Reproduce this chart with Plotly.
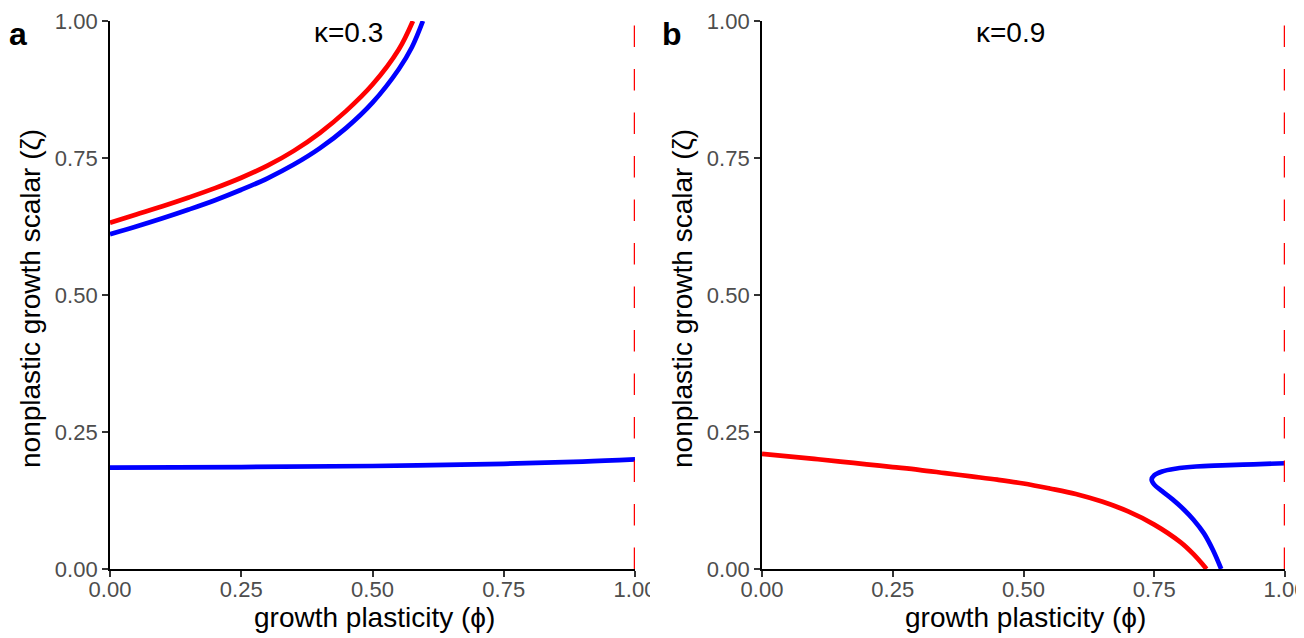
import plotly.graph_objects as go

# The page body has an 8px margin, so the figure is drawn 8px smaller and
# all reference pixel positions are shifted by 8px.
VIEW_W, VIEW_H = 1304, 638
OFF = 8
W, H = VIEW_W - OFF, VIEW_H - OFF

# ---- data ----
a_red_x = [0.00, 0.05, 0.10, 0.15, 0.20, 0.25, 0.30, 0.35, 0.40, 0.45, 0.50, 0.55, 0.577]
a_red_y = [0.632, 0.647, 0.662, 0.678, 0.695, 0.714, 0.736, 0.763, 0.796, 0.836, 0.884, 0.948, 1.00]

a_blue_hi_x = [0.00, 0.05, 0.10, 0.15, 0.20, 0.25, 0.30, 0.35, 0.40, 0.45, 0.50, 0.55, 0.575, 0.596]
a_blue_hi_y = [0.611, 0.625, 0.640, 0.656, 0.673, 0.692, 0.713, 0.738, 0.768, 0.805, 0.851, 0.912, 0.952, 1.00]

a_blue_lo_x = [0.00, 0.25, 0.50, 0.75, 0.90, 1.00]
a_blue_lo_y = [0.185, 0.186, 0.188, 0.192, 0.196, 0.200]

b_red_x = [0.00, 0.05, 0.10, 0.15, 0.20, 0.25, 0.30, 0.35, 0.40, 0.45, 0.50, 0.55, 0.60, 0.65, 0.70, 0.75, 0.80, 0.825, 0.85]
b_red_y = [0.210, 0.2055, 0.201, 0.196, 0.191, 0.186, 0.181, 0.175, 0.169, 0.163, 0.156, 0.147, 0.137, 0.123, 0.105, 0.081, 0.049, 0.027, 0.000]

b_blue_x = [0.878, 0.862, 0.845, 0.825, 0.805, 0.785, 0.765, 0.750, 0.745, 0.750, 0.765, 0.790, 0.830, 0.880, 0.940, 1.000]
b_blue_y = [0.000, 0.035, 0.065, 0.090, 0.110, 0.127, 0.142, 0.154, 0.163, 0.171, 0.178, 0.183, 0.187, 0.189, 0.191, 0.193]

threshold_x = [1.0, 1.0]
threshold_y = [0.0, 1.0]

kappa_labels = ["κ=0.3", "κ=0.9"]
panel_labels = ["a", "b"]
tick_vals = [0, 0.25, 0.5, 0.75, 1.0]
tick_text = ["0.00", "0.25", "0.50", "0.75", "1.00"]
x_title = "growth plasticity (ϕ)"
y_title = "nonplastic growth scalar (ζ)"

RED = "#FF0000"
BLUE = "#0000FF"
FONT = "Liberation Sans, Arial, sans-serif"

fig = go.Figure()

def line(x, y, color, xa, ya, width=4.7, dash=None, spline=True):
    fig.add_trace(go.Scatter(
        x=x, y=y, mode="lines", xaxis=xa, yaxis=ya, showlegend=False,
        line=dict(color=color, width=width, dash=dash,
                  shape="spline" if spline else "linear", smoothing=1.0),
        hoverinfo="skip"))

DASH = "21.5px,22px"
# panel a
line(a_red_x, a_red_y, RED, "x", "y")
line(a_blue_hi_x, a_blue_hi_y, BLUE, "x", "y")
line(a_blue_lo_x, a_blue_lo_y, BLUE, "x", "y")
line(threshold_x, threshold_y, RED, "x", "y", width=2.5, dash=DASH, spline=False)
# panel b
line(b_red_x, b_red_y, RED, "x2", "y2")
line(b_blue_x, b_blue_y, BLUE, "x2", "y2")
line(threshold_x, threshold_y, RED, "x2", "y2", width=2.5, dash=DASH, spline=False)

# geometry: reference viewport pixels -> paper
def px(x):
    return (x - OFF) / W

def py(y):
    return 1 - (y - OFF) / H

ax_l, ax_r = px(110), px(635)
bx_l, bx_r = px(762), px(1285)
y_top, y_bot = py(21), py(569)

axis_common = dict(
    range=[0, 1], showgrid=False, zeroline=False, showline=True,
    linecolor="black", linewidth=1.8, ticks="outside", ticklen=6,
    tickwidth=1.6, tickcolor="#333333", tickvals=tick_vals, ticktext=tick_text,
    tickfont=dict(family=FONT, size=22, color="#4D4D4D"), fixedrange=True,
    automargin=False, ticklabeloverflow="allow",
)
x_extra = dict(ticklabelstandoff=-6)

fig.update_layout(
    width=W, height=H, margin=dict(l=0, r=0, t=0, b=0, pad=0, autoexpand=False),
    paper_bgcolor="white", plot_bgcolor="white",
    xaxis=dict(domain=[ax_l, ax_r], anchor="y", **axis_common, **x_extra),
    yaxis=dict(domain=[y_bot, y_top], anchor="x", **axis_common),
    xaxis2=dict(domain=[bx_l, bx_r], anchor="y2", **axis_common, **x_extra),
    yaxis2=dict(domain=[y_bot, y_top], anchor="x2", **axis_common),
)

def note(text, x, y, size, bold=False, angle=0):
    return dict(text=("<b>%s</b>" % text) if bold else text, x=px(x), y=py(y),
                xref="paper", yref="paper", xanchor="center", yanchor="middle",
                textangle=angle, showarrow=False,
                font=dict(family=FONT, size=size, color="black"))

ann = [
    note(kappa_labels[0], 348, 33, 28),
    note(kappa_labels[1], 1010, 33, 28),
    note(panel_labels[0], 18, 34, 32, bold=True),
    note(panel_labels[1], 672, 34, 32, bold=True),
    note(x_title, (110 + 635) / 2 + 2, 617, 28),
    note(x_title, (762 + 1285) / 2 + 2, 617, 28),
    note(y_title, 30, 299, 28, angle=-90),
    note(y_title, 682, 299, 28, angle=-90),
]
fig.update_layout(annotations=ann)

# clip the overflowing "1.00" label of panel a like the reference
fig.add_shape(type="rect", xref="paper", yref="paper", x0=px(650), x1=px(670),
              y0=py(604), y1=py(574), fillcolor="white", line=dict(width=0), layer="above")

fig.write_html("out.html")
